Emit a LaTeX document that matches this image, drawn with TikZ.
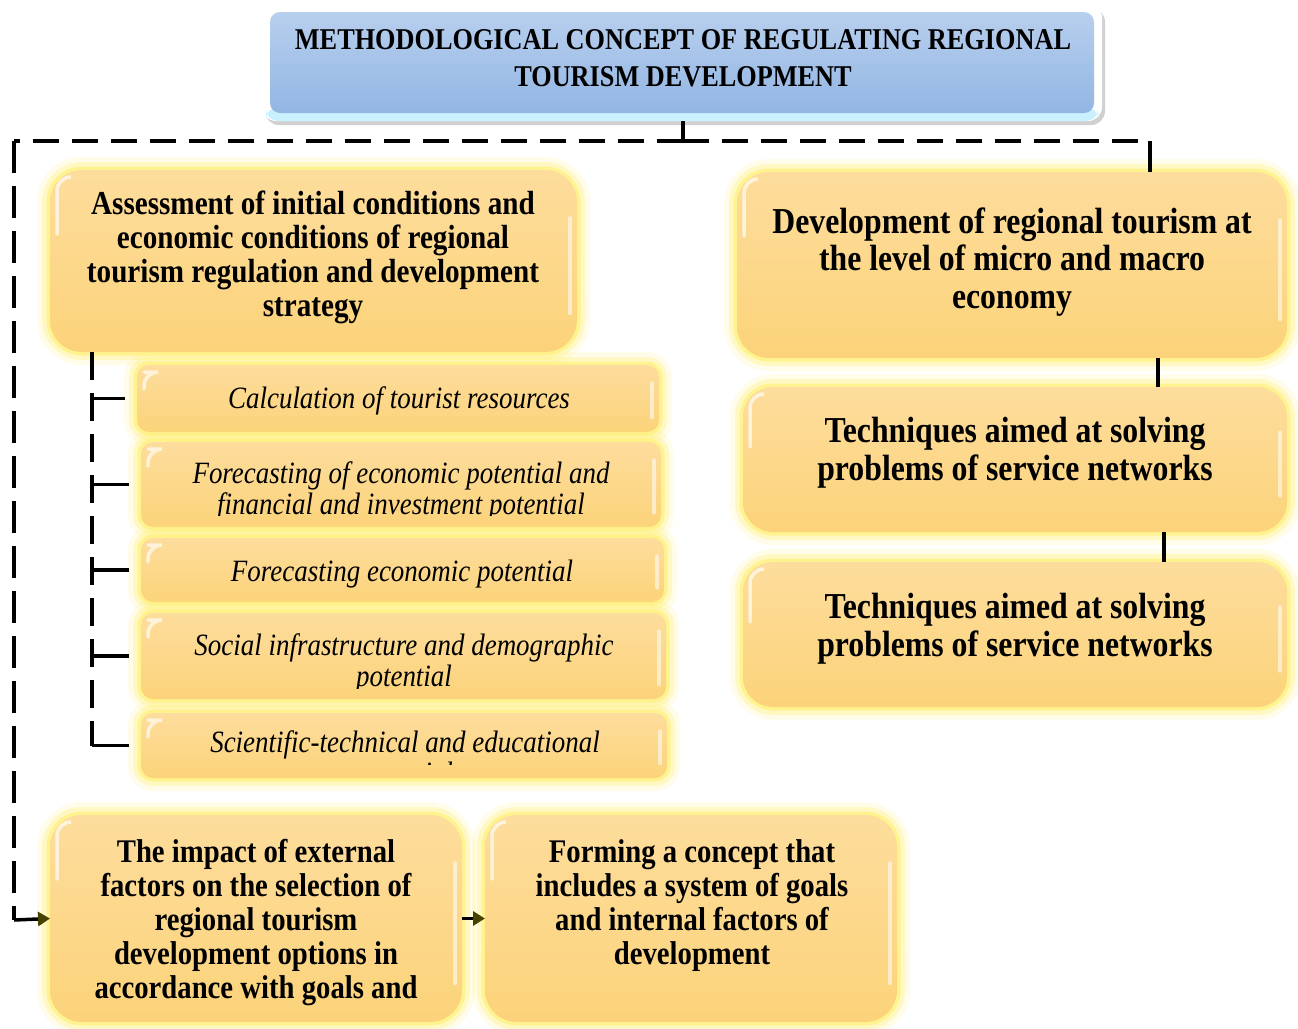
\documentclass[tikz,border=0pt]{standalone}
\usepackage{fontspec}
\setmainfont[FakeStretch=0.87]{Liberation Serif}
\usetikzlibrary{arrows.meta,shadows}

\definecolor{boxtop}{RGB}{253,221,157}
\definecolor{boxbot}{RGB}{252,211,122}
\definecolor{glowc}{RGB}{255,240,110}
\definecolor{bluetop}{RGB}{184,207,238}
\definecolor{bluebot}{RGB}{146,182,227}
\definecolor{cyanedge}{RGB}{200,240,255}
\definecolor{tiphead}{RGB}{70,66,0}

% text nodes are anchored at the baseline of their last line
\tikzset{
  glowbox/.style={rectangle, rounded corners=#1, inner sep=0pt, outer sep=0pt,
    top color=boxtop, bottom color=boxbot, draw=none,
    preaction={draw=glowc, line width=26pt, draw opacity=0.15, fill=none},
    preaction={draw=glowc, line width=16pt, draw opacity=0.3, fill=none},
    preaction={draw=glowc, line width=7pt, draw opacity=0.6, fill=none},
    path picture={
      \draw[white, line width=3.5pt, opacity=0.65, line cap=round, rounded corners=14pt]
        ([shift={(7pt,-#1*2)}]path picture bounding box.north west)
        -- ([shift={(7pt,-7pt)}]path picture bounding box.north west)
        -- ([shift={(#1*0.6,-7pt)}]path picture bounding box.north west);
      \draw[white, line width=3.5pt, opacity=0.55, line cap=round]
        ([shift={(-7pt,-#1*1.5)}]path picture bounding box.north east)
        -- ([shift={(-7pt,#1*1.2)}]path picture bounding box.south east);
    }},
  titleframe/.style={rectangle, rounded corners=14pt, inner sep=0pt, outer sep=0pt,
    fill=white, draw=none,
    drop shadow={shadow xshift=3pt, shadow yshift=-4pt, opacity=0.3, fill=black!60}},
  titlebox/.style={rectangle, rounded corners=10pt, inner sep=0pt, outer sep=0pt,
    top color=bluetop, bottom color=bluebot, draw=none},
  ttext/.style={font=\bfseries\fontsize{30.2}{37}\selectfont, align=center, anchor=base, inner sep=0pt},
  atext/.style={font=\bfseries\fontsize{33.5}{33.7}\selectfont, align=center, anchor=base, inner sep=0pt},
  rtext/.style={font=\bfseries\fontsize{36.5}{37.5}\selectfont, align=center, anchor=base, inner sep=0pt},
  btext/.style={font=\bfseries\fontsize{33}{33.8}\selectfont, align=center, anchor=base, inner sep=0pt},
  itext/.style={font=\itshape\fontsize{31}{31}\selectfont, align=center, anchor=base, inner sep=0pt},
  solidln/.style={line width=3.5pt, black},
  dashln/.style={line width=3.5pt, black, dash pattern=on 26pt off 13pt},
  vdashln/.style={line width=3.5pt, black, dash pattern=on 32pt off 13pt},
  brln/.style={line width=3.5pt, black, dash pattern=on 28pt off 13pt},
  stub/.style={line width=3.5pt, black, shorten >=12pt},
  arr/.style={line width=3.5pt, black, -{Triangle[length=12pt,width=14pt,color=tiphead]}}
}

\begin{document}
\begin{tikzpicture}[x=1pt,y=-1pt]
\useasboundingbox (0,0) rectangle (1298,1028);
\fill[white] (0,0) rectangle (1298,1028);

% title block
\node[titleframe, minimum width=840pt, minimum height=117pt] (tframe) at (682,62.5) {};
\fill[cyanedge, rounded corners=12pt] ([xshift=4pt]tframe.south west) rectangle ([xshift=-4pt,yshift=14pt]tframe.south east);
\node[titlebox, minimum width=824pt, minimum height=101pt] (title) at (682,62.5) {};
\node[ttext] (titletext) at (683,86) {METHODOLOGICAL CONCEPT OF REGULATING REGIONAL\\TOURISM DEVELOPMENT};

% left column
\node[glowbox=32pt, minimum width=527pt, minimum height=182pt] (assess) at (313.5,261) {};
\node[atext] (assesstext) at (313,316) {Assessment of initial conditions and\\economic conditions of regional\\tourism regulation and development\\strategy};

\node[glowbox=12pt, minimum width=522pt, minimum height=67pt] (s1) at (398,398.5) {};
\node[glowbox=12pt, minimum width=520pt, minimum height=85pt] (s2) at (401,484.5) {};
\node[glowbox=12pt, minimum width=523pt, minimum height=64pt] (s3) at (402.5,570) {};
\node[glowbox=12pt, minimum width=525pt, minimum height=86pt] (s4) at (403.5,656) {};
\node[glowbox=12pt, minimum width=526pt, minimum height=65pt] (s5) at (404,745.5) {};

\node[itext] (s1text) at (399,408) {Calculation of tourist resources};
\begin{scope}
  \clip (130,440) rectangle (670,515);
  \node[itext] (s2text) at (401,514) {Forecasting of economic potential and\\financial and investment potential};
\end{scope}
\node[itext] (s3text) at (402,581) {Forecasting economic potential};
\begin{scope}
  \clip (130,610) rectangle (670,688);
  \node[itext] (s4text) at (404,686) {Social infrastructure and demographic\\potential};
\end{scope}
\begin{scope}
  \clip (130,710) rectangle (670,764);
  \node[itext] (s5text) at (405,783) {Scientific-technical and educational\\potential};
\end{scope}

% right column
\node[glowbox=32pt, minimum width=550pt, minimum height=186pt] (r1) at (1012,265) {};
\node[rtext] (r1text) at (1012,308) {Development of regional tourism at\\the level of micro and macro\\economy};
\node[glowbox=30pt, minimum width=544pt, minimum height=145pt] (r2) at (1015,459.5) {};
\node[rtext] (r2text) at (1015,480) {Techniques aimed at solving\\problems of service networks};
\node[glowbox=30pt, minimum width=544pt, minimum height=145pt] (r3) at (1015,634.5) {};
\node[rtext] (r3text) at (1015,656) {Techniques aimed at solving\\problems of service networks};

% bottom row
\node[glowbox=32pt, minimum width=412pt, minimum height=207pt] (b1) at (256,918.5) {};
\node[btext] (b1text) at (256,998) {The impact of external\\factors on the selection of\\regional tourism\\development options in\\accordance with goals and};
\node[glowbox=32pt, minimum width=412pt, minimum height=207pt] (b2) at (691,918.5) {};
\node[btext] (b2text) at (692,964) {Forming a concept that\\includes a system of goals\\and internal factors of\\development};

% connectors
\coordinate (jt) at (683,141);
\coordinate (jl) at (14,141);
\coordinate (jr) at (1150,141);
\coordinate (jb) at (14,920);
\coordinate (trtop) at (92,352);
\coordinate (trbot) at (92,745.5);
\coordinate (cx1) at (1158,0);
\coordinate (cx2) at (1164,0);

\draw[solidln] (tframe.south -| jt) -- (jt);
\draw[dashln] (jt) -- (jr);
\draw[dashln] (jt) -- (jl);
\draw[vdashln] (jl) -- (jb);
\draw[solidln] (jr) -- (r1.north -| jr);
\draw[arr] (jb) -- (b1.west);
\draw[arr] (b1.east) -- (b2.west);

\draw[solidln] (r1.south -| cx1) -- (r2.north -| cx1);
\draw[solidln] (r2.south -| cx2) -- (r3.north -| cx2);

\draw[brln] (trtop) -- (trbot);
\draw[stub] (s1.west -| trtop) -- (s1.west);
\draw[stub] (s2.west -| trtop) -- (s2.west);
\draw[stub] (s3.west -| trtop) -- (s3.west);
\draw[stub] (s4.west -| trtop) -- (s4.west);
\draw[stub] (trbot) -- (s5.west);
\end{tikzpicture}
\end{document}
